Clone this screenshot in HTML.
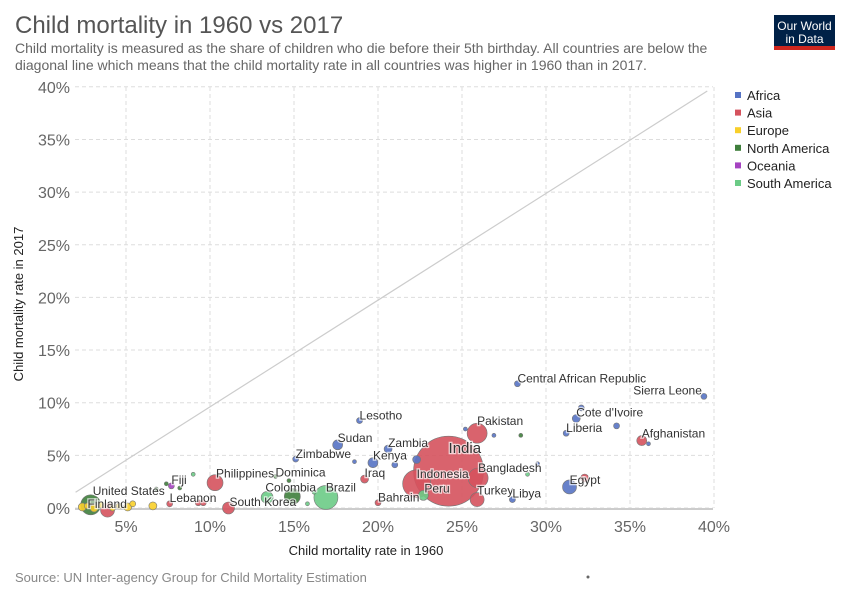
<!DOCTYPE html>
<html><head><meta charset="utf-8"><style>
body{margin:0;background:#fff;font-family:"Liberation Sans",sans-serif;}
#wrap{position:relative;width:850px;height:600px;overflow:hidden;}
</style></head><body>
<div id="wrap">
<svg id="svg" width="850" height="600" xmlns="http://www.w3.org/2000/svg" font-family="Liberation Sans, sans-serif">
<text x="15" y="33" font-size="24" fill="#555">Child mortality in 1960 vs 2017</text>
<text x="15" y="53" font-size="14" fill="#666">Child mortality is measured as the share of children who die before their 5th birthday. All countries are below the</text>
<text x="15" y="70" font-size="14" fill="#666">diagonal line which means that the child mortality rate in all countries was higher in 1960 than in 2017.</text>
<g>
<rect x="774" y="15" width="61" height="35" fill="#002147"/>
<rect x="774" y="46" width="61" height="4" fill="#ce261e"/>
<text x="804.5" y="30" font-size="12" fill="#fff" text-anchor="middle">Our World</text>
<text x="804.5" y="43" font-size="12" fill="#fff" text-anchor="middle">in Data</text>
</g>
<g id="grid"></g><g id="marks"></g><g id="labels"></g><g id="legend"></g>
<text x="17" y="298" font-size="13" fill="#222" transform="rotate(-90 23 298)" text-anchor="middle">Child mortality rate in 2017</text>
<text x="366" y="555" font-size="13" fill="#222" text-anchor="middle">Child mortality rate in 1960</text>
<text x="15" y="582" font-size="13" fill="#888">Source: UN Inter-agency Group for Child Mortality Estimation</text>
<circle cx="588" cy="577" r="1.5" fill="#666"/>
</svg>
</div>
<script>
const xTicks=[5,10,15,20,25,30,35,40];
const yTicks=[0,5,10,15,20,25,30,35,40];
const regions=["Africa","Asia","Europe","North America","Oceania","South America"];
const regionColors=["#5673c4","#d5525d","#f8cf2a","#3f7f3c","#a543c1","#6bcb86"];
const names=["India","Pakistan","Bangladesh","Indonesia","Turkey","Egypt","","Afghanistan","Central African Republic","Sierra Leone","Cote d'Ivoire","","Liberia","","","Lesotho","Sudan","Zimbabwe","Zambia","Kenya","","","","Iraq","Peru","Bahrain","Libya","","","","","","","Brazil","Colombia","","Dominica","","Philippines","South Korea","Lebanon","Fiji","United States","Finland","","","","","","","","","","","","","","","","",""];
const x1960=[24.2,25.9,25.96,22.3,25.9,32.3,31.4,35.7,28.3,39.4,31.8,32.1,31.2,34.2,36.1,18.9,17.6,15.1,20.6,19.7,21.0,22.3,18.6,19.2,22.7,20.0,28.0,25.2,26.9,27.7,28.5,28.9,29.5,16.9,14.9,13.4,13.9,14.7,10.3,11.1,7.6,7.7,2.9,3.9,6.8,8.2,9.3,9.0,7.4,2.4,3.1,3.5,4.6,5.1,6.6,5.4,4.2,9.6,16.2,15.8,2.7];
const y2017=[3.5,7.1,2.85,2.3,0.8,2.85,2.0,6.4,11.8,10.6,8.5,9.5,7.1,7.8,6.1,8.3,6.0,4.65,5.6,4.3,4.1,4.6,4.4,2.75,1.2,0.5,0.8,7.5,6.9,8.1,6.9,3.2,4.2,1.0,1.1,1.0,3.0,2.6,2.4,0.0,0.4,2.1,0.3,-0.2,1.8,1.9,0.5,3.2,2.3,0.1,0.0,0.3,0.2,0.1,0.2,0.4,0.0,0.5,1.5,0.4,0.2];
const sizes=[35,10,10,14,7,4,7,5,3,3,4,3,3,3,2,3,5,3,4,5,3,4,2,4,5,3,3,2,2,2,2,2,2,12,8,6,2,2,8,6,3,3,10,7,2,2,3,2,2,4,4,3,3,4,4,3,3,3,2,2,3];
const regionIdx=[1,1,1,1,1,1,0,1,0,0,0,0,0,0,0,0,0,0,0,0,0,0,0,1,5,1,0,0,0,0,3,5,0,5,3,5,3,3,1,1,1,4,3,1,3,3,1,5,3,2,2,2,2,2,2,2,2,1,5,5,2];
// label placement: [dx, baseline offset from point centre, font size, anchor]
const labelTweak={"India":[0,-18,15],"Indonesia":[0,-6,12],"Peru":[1,-3,12],"Colombia":[-27,-5,12],"Finland":[-20,-2,12],"Sierra Leone":[-2,-2,12,'end'],"Bahrain":[0,-1,12],"South Korea":[1,-2,12],"Egypt":[-15,6,12],"Brazil":[0,-6,12],"Philippines":[1,-5,12],"Lebanon":[0,-2,12],"Fiji":[0,-2,12],"United States":[2,-10,12],"Bangladesh":[0,-6,12],"Turkey":[0,-5,12],"Libya":[0,-2,12]};
const X=v=>42+v*16.8, Y=v=>508-v*10.53;
const NS="http://www.w3.org/2000/svg";
function mk(t,a,p){const e=document.createElementNS(NS,t);for(const k in a)e.setAttribute(k,a[k]);p.appendChild(e);return e;}
const grid=document.getElementById('grid');
xTicks.forEach(t=>{const g=mk('line',{x1:X(t),x2:X(t),y1:87,y2:508,stroke:'#ddd','stroke-dasharray':'4,3'},grid);

const l=mk('text',{x:X(t),y:532,'font-size':16,fill:'#666','text-anchor':'middle'},grid);l.textContent=t+'%';
});
yTicks.forEach(t=>{const g=mk('line',{x1:75,x2:713,y1:Y(t),y2:Y(t),stroke:'#ddd','stroke-dasharray':'4,3'},grid);

const l=mk('text',{x:70,y:Y(t)+6,'font-size':16,fill:'#666','text-anchor':'end'},grid);l.textContent=t+'%';
});
const ax=mk('line',{x1:75,x2:713,y1:509,y2:509,stroke:'#ccc','stroke-width':2},grid);

const dg=mk('line',{x1:X(2),y1:Y(1.5),x2:X(39.6),y2:Y(39.6),stroke:'#ccc','stroke-width':1.2},grid);

const marks=document.getElementById('marks'),labels=document.getElementById('labels');
const order=names.map((_,i)=>i).sort((a,b)=>sizes[b]-sizes[a]);
order.forEach(i=>{const c=mk('circle',{cx:X(x1960[i]),cy:Y(y2017[i]),r:sizes[i],fill:regionColors[regionIdx[i]],stroke:'#777','stroke-width':0.6,'fill-opacity':0.9},marks);

});
names.forEach((n,i)=>{if(!n)return;
const tw=labelTweak[n];
const cx=X(x1960[i]),cy=Y(y2017[i]);
let lx=cx,ly=cy-sizes[i]+2,anc='start',fs=12;
if(tw){lx=cx+tw[0];ly=cy+tw[1];fs=tw[2];if(tw[3])anc=tw[3];}
const t=mk('text',{x:lx,y:ly,'font-size':fs,fill:'#333','text-anchor':anc,stroke:'#fff','stroke-width':2.5,'stroke-opacity':0.7,'paint-order':'stroke'},labels);t.textContent=n;
});
const lg=document.getElementById('legend');
regions.forEach((r,i)=>{const y=96+i*17.6;
const s=mk('rect',{x:735,y:y-4,width:6,height:6,fill:regionColors[i]},lg);

const t=mk('text',{x:747,y:y+4,'font-size':13,fill:'#222'},lg);t.textContent=r;
});
</script>
</body></html>
